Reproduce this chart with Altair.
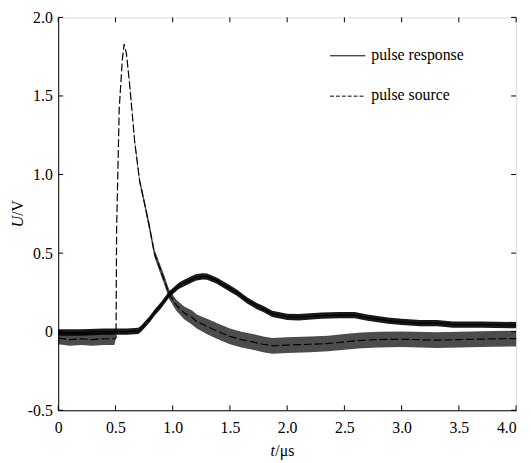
import altair as alt
import pandas as pd

# ---- data ----
src_t = [0.00, 0.10, 0.20, 0.30, 0.40, 0.49, 0.505, 0.51, 0.533, 0.56, 0.576, 0.596,
         0.625, 0.668, 0.711, 0.75, 0.797, 0.84, 0.926, 0.969, 1.03, 1.10, 1.17, 1.21,
         1.31, 1.40, 1.50, 1.60, 1.70, 1.79, 1.87, 2.00, 2.20, 2.36, 2.50, 2.65, 2.80,
         3.00, 3.31, 3.50, 3.70, 4.00]
src_u = [-0.04, -0.05, -0.045, -0.05, -0.045, -0.045, -0.04, 0.65, 1.42, 1.73, 1.83, 1.77,
         1.565, 1.21, 0.96, 0.83, 0.666, 0.50, 0.33, 0.238, 0.17, 0.12, 0.09, 0.065,
         0.03, 0.0, -0.03, -0.05, -0.065, -0.08, -0.09, -0.085, -0.08, -0.075, -0.065, -0.055, -0.05,
         -0.048, -0.054, -0.05, -0.047, -0.044]
src_noise = [0.04, 0.04, 0.04, 0.04, 0.04, 0.04, 0.0, 0.0, 0.0, 0.0, 0.0, 0.0,
             0.01, 0.015, 0.02, 0.02, 0.025, 0.025, 0.03, 0.03, 0.035, 0.04, 0.045, 0.045,
             0.05, 0.05, 0.05, 0.05, 0.05, 0.05, 0.05, 0.05, 0.05, 0.05, 0.05, 0.05, 0.05,
             0.05, 0.05, 0.05, 0.05, 0.05]

resp_t = [0.00, 0.20, 0.40, 0.60, 0.70, 0.725, 0.80, 0.84, 0.90, 0.969, 1.05, 1.10, 1.20,
          1.26, 1.30, 1.385, 1.50, 1.557, 1.65, 1.73, 1.79, 1.87, 2.00, 2.10, 2.30, 2.45,
          2.59, 2.70, 2.88, 3.00, 3.16, 3.31, 3.45, 3.70, 4.00]
resp_u = [-0.005, -0.005, 0.0, 0.0, 0.005, 0.02, 0.08, 0.12, 0.17, 0.238, 0.29, 0.31, 0.345,
          0.352, 0.35, 0.325, 0.275, 0.25, 0.20, 0.165, 0.145, 0.113, 0.095, 0.092, 0.102, 0.105,
          0.105, 0.09, 0.07, 0.062, 0.055, 0.055, 0.045, 0.045, 0.042]
resp_noise = [0.02] * len(resp_t)

x_ticks = [0, 0.5, 1.0, 1.5, 2.0, 2.5, 3.0, 3.5, 4.0]
y_ticks = [-0.5, 0, 0.5, 1.0, 1.5, 2.0]
legend_labels = ["pulse response", "pulse source"]

FONT = "Liberation Serif, Times New Roman, serif"
W, H = 465, 399

src = pd.DataFrame({"t": src_t, "u": src_u,
                    "lo": [u - n for u, n in zip(src_u, src_noise)],
                    "hi": [u + n for u, n in zip(src_u, src_noise)]})
resp = pd.DataFrame({"t": resp_t, "u": resp_u,
                     "lo": [u - n for u, n in zip(resp_u, resp_noise)],
                     "hi": [u + n for u, n in zip(resp_u, resp_noise)]})

lab_expr = ("datum.value == 0 ? '0' : (datum.value < 0 ? '-' + format(-datum.value, '.1f')"
            " : format(datum.value, '.1f'))")
xscale = alt.Scale(domain=[0, 4], nice=False, zero=False)
yscale = alt.Scale(domain=[-0.5, 2.0], nice=False, zero=False)
xaxis = alt.Axis(values=x_ticks, title=None, ticks=False, grid=False, labelExpr=lab_expr,
                 labelFont=FONT, labelFontSize=16, labelPadding=10, labelColor="black",
                 domainColor="black", labelFlush=False, labelOverlap=False,
                 labelAlign=alt.condition("datum.value == 4", alt.value("right"), alt.value("center")))
yaxis = alt.Axis(values=y_ticks, title=None, ticks=False, grid=False, labelExpr=lab_expr,
                 labelFont=FONT, labelFontSize=16, labelPadding=6, labelColor="black",
                 domainColor="black", labelOverlap=False)

def X(f):
    return alt.X(f, type="quantitative", scale=xscale, axis=xaxis)

def Y(f):
    return alt.Y(f, type="quantitative", scale=yscale, axis=yaxis)

src_band = alt.Chart(src).mark_area(color="black", opacity=0.7).encode(
    x=X("t"), y=Y("lo"), y2="hi")
src_line = alt.Chart(src).mark_line(color="black", strokeWidth=1.2, strokeDash=[8, 3]).encode(
    x=X("t"), y=Y("u"))
resp_band = alt.Chart(resp).mark_area(color="black", opacity=0.9).encode(
    x=X("t"), y=Y("lo"), y2="hi")
resp_line = alt.Chart(resp).mark_line(color="black", strokeWidth=1.2).encode(
    x=X("t"), y=Y("u"))

xt = pd.DataFrame({"v": x_ticks})
yt = pd.DataFrame({"v": y_ticks})
tick_b = alt.Chart(xt).mark_rule(color="black").encode(x=X("v"), y=alt.value(H), y2=alt.value(H - 5))
tick_t = alt.Chart(xt).mark_rule(color="black").encode(x=X("v"), y=alt.value(0), y2=alt.value(5))
tick_l = alt.Chart(yt).mark_rule(color="black").encode(y=Y("v"), x=alt.value(0), x2=alt.value(5))
tick_r = alt.Chart(yt).mark_rule(color="black").encode(y=Y("v"), x=alt.value(W), x2=alt.value(W - 5))

# legend (inside, top right)
leg_resp_line = alt.Chart(pd.DataFrame({"s": [legend_labels[0]]})).mark_rule(
    color="black", strokeWidth=1).encode(x=alt.value(276), x2=alt.value(312), y=alt.value(39))
leg_src_line = alt.Chart(pd.DataFrame({"s": [legend_labels[1]]})).mark_rule(
    color="black", strokeWidth=1, strokeDash=[4, 2]).encode(x=alt.value(276), x2=alt.value(312), y=alt.value(80))
leg_resp_txt = alt.Chart(pd.DataFrame({"s": [legend_labels[0]]})).mark_text(
    font=FONT, fontSize=16, align="left", baseline="middle", color="black").encode(
    text="s:N", x=alt.value(318), y=alt.value(38))
leg_src_txt = alt.Chart(pd.DataFrame({"s": [legend_labels[1]]})).mark_text(
    font=FONT, fontSize=16, align="left", baseline="middle", color="black").encode(
    text="s:N", x=alt.value(318), y=alt.value(79))

# axis titles with italic variable names
def txt(s, x, y, italic=False, angle=0):
    kw = dict(font=FONT, fontSize=16, align="left", baseline="middle", color="black", angle=angle)
    if italic:
        kw["fontStyle"] = "italic"
    return alt.Chart(pd.DataFrame({"s": [s]})).mark_text(**kw).encode(
        text="s:N", x=alt.value(x), y=alt.value(y))

xt1 = txt("t", 215.5, 440, italic=True)
xt2 = txt("/μs", 220.5, 440)
yt1 = txt("U", -41, 213, italic=True, angle=270)
yt2 = txt("/V", -41, 201.5, angle=270)

chart = alt.layer(
    src_band, resp_band, src_line, resp_line,
    tick_b, tick_t, tick_l, tick_r,
    leg_resp_line, leg_src_line, leg_resp_txt, leg_src_txt,
    xt1, xt2, yt1, yt2,
).properties(
    width=W, height=H,
    autosize=alt.AutoSizeParams(type="none"),
    padding={"left": 51, "top": 6, "right": 7, "bottom": 50},
).configure_view(stroke="black", strokeWidth=1).configure(background="white")

chart.save("out.html", embed_options={"renderer": "svg", "actions": False})
